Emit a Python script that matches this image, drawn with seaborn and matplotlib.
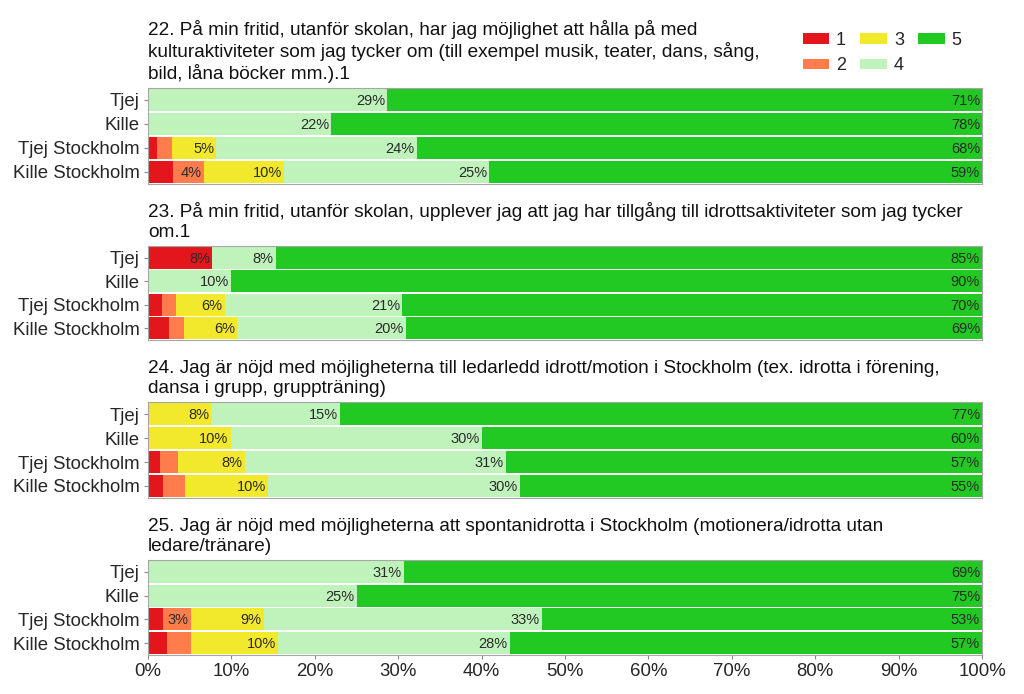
import numpy as np
import pandas as pd
import matplotlib
matplotlib.use("Agg")
import matplotlib.pyplot as plt
import seaborn as sns
from matplotlib.patches import Patch

sns.set_style("white")
plt.rcParams["font.family"] = ["Liberation Sans", "DejaVu Sans"]

groups = ["Tjej", "Kille", "Tjej Stockholm", "Kille Stockholm"]
levels = ["1", "2", "3", "4", "5"]
colors = ["#e3161c", "#ff7d4d", "#f2e92c", "#c0f3bb", "#22c922"]

titles = [
    "22. På min fritid, utanför skolan, har jag möjlighet att hålla på med\n"
    "kulturaktiviteter som jag tycker om (till exempel musik, teater, dans, sång,\n"
    "bild, låna böcker mm.).1",
    "23. På min fritid, utanför skolan, upplever jag att jag har tillgång till idrottsaktiviteter som jag tycker\n"
    "om.1",
    "24. Jag är nöjd med möjligheterna till ledarledd idrott/motion i Stockholm (tex. idrotta i förening,\n"
    "dansa i grupp, gruppträning)",
    "25. Jag är nöjd med möjligheterna att spontanidrotta i Stockholm (motionera/idrotta utan\n"
    "ledare/tränare)",
]

# values per level (1..5) for groups Tjej, Kille, Tjej Stockholm, Kille Stockholm
q22_1 = [0, 0, 1.1, 3.0]
q22_2 = [0, 0, 1.8, 3.7]
q22_3 = [0, 0, 5.3, 9.6]
q22_4 = [28.7, 22.0, 24.0, 24.6]
q22_5 = [71.3, 78.0, 67.8, 59.1]

q23_1 = [7.7, 0, 1.7, 2.5]
q23_2 = [0, 0, 1.7, 1.8]
q23_3 = [0, 0, 5.8, 6.4]
q23_4 = [7.6, 10.0, 21.3, 20.2]
q23_5 = [84.7, 90.0, 69.5, 69.1]

q24_1 = [0, 0, 1.4, 1.8]
q24_2 = [0, 0, 2.2, 2.6]
q24_3 = [7.6, 9.9, 8.0, 10.0]
q24_4 = [15.4, 30.1, 31.3, 30.2]
q24_5 = [77.0, 60.0, 57.1, 55.4]

q25_1 = [0, 0, 1.8, 2.3]
q25_2 = [0, 0, 3.3, 2.9]
q25_3 = [0, 0, 8.8, 10.4]
q25_4 = [30.7, 25.0, 33.3, 27.8]
q25_5 = [69.3, 75.0, 52.8, 56.6]

questions = [
    [q22_1, q22_2, q22_3, q22_4, q22_5],
    [q23_1, q23_2, q23_3, q23_4, q23_5],
    [q24_1, q24_2, q24_3, q24_4, q24_5],
    [q25_1, q25_2, q25_3, q25_4, q25_5],
]

W, H = 1024, 694
fig = plt.figure(figsize=(W / 100, H / 100), dpi=100)

panels_px = [(88, 184), (246, 340), (402, 498), (560, 655)]
left_px, right_px = 148, 982

for qi, (vals, (top, bot)) in enumerate(zip(questions, panels_px)):
    ax = fig.add_axes([left_px / W, 1 - bot / H, (right_px - left_px) / W, (bot - top) / H])
    arr = np.array(vals).T  # groups x levels
    cum = np.cumsum(arr, axis=1)
    for k in range(4, -1, -1):
        df = pd.DataFrame({"group": groups, "value": cum[:, k]})
        sns.barplot(data=df, x="value", y="group", order=groups, orient="h",
                    color=colors[k], saturation=1, width=0.93, ax=ax,
                    edgecolor="none", linewidth=0)
    for i in range(len(groups)):
        for k in range(5):
            v = arr[i, k]
            if v >= 3.2:
                ax.text(cum[i, k] - 0.25, i + 0.04, f"{int(round(v))}%", ha="right", va="center",
                        fontsize=10.5, color="#2a2a2a")
    ax.set_xlim(0, 100)
    ax.set_ylim(3.5, -0.5)
    ax.set_xlabel("")
    ax.set_ylabel("")
    for s in ax.spines.values():
        s.set_color("#a6a6a6")
        s.set_linewidth(0.8)
    ax.tick_params(axis="y", labelsize=13.4, length=3, color="#888888", left=True, pad=3)
    if qi == 3:
        ax.set_xticks(np.arange(0, 101, 10))
        ax.set_xticklabels([f"{t}%" for t in range(0, 101, 10)])
        ax.tick_params(axis="x", labelsize=13.4, length=3, color="#888888", bottom=True, pad=3)
    else:
        ax.set_xticks([])
    fig.text(left_px / W, 1 - (top - 5) / H, titles[qi], ha="left", va="bottom",
             fontsize=13.7, linespacing=1.2, color="#111111")

handles = [Patch(facecolor=c, edgecolor="none") for c in colors]
fig.legend(handles, levels, ncol=3, loc="upper right", bbox_to_anchor=(978 / W, 1 - 16 / H),
           frameon=False, fontsize=13, handlelength=1.45, handleheight=0.55,
           columnspacing=0.8, handletextpad=0.4, labelspacing=0.45)

fig.savefig("out.png", dpi=100)
